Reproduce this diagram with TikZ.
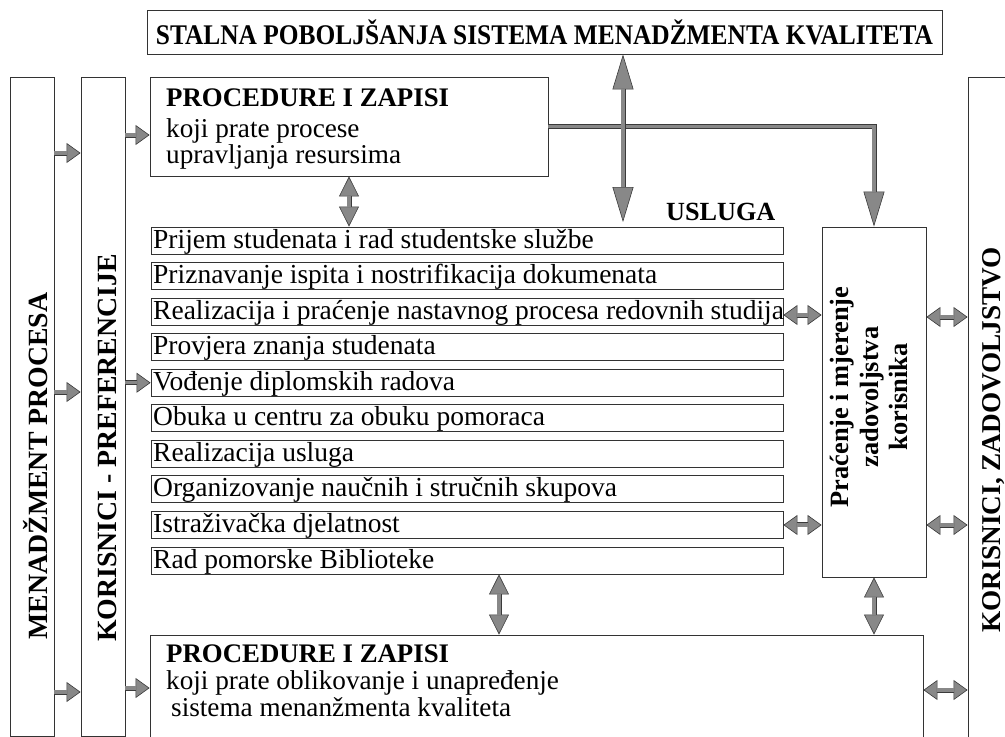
\documentclass[tikz,border=0pt]{standalone}
\usepackage{fontspec}
\setmainfont{Liberation Serif}
\usetikzlibrary{arrows.meta}
\definecolor{arrfill}{HTML}{888888}
\definecolor{arrline}{HTML}{3A3A3A}
\definecolor{boxline}{HTML}{333333}
\newcommand\myfs[2]{\fontsize{#1}{#2}\selectfont}
\tikzset{
  ST/.tip={Triangle[length=14pt,width=20pt,color=arrline,fill=arrfill,line width=0.6pt]},
  VT/.tip={Triangle[length=20pt,width=20pt,color=arrline,fill=arrfill,line width=0.6pt]},
  BT/.tip={Triangle[length=35pt,width=21pt,color=arrline,fill=arrfill,line width=0.6pt]},
  blk/.style={draw=arrline,line width=5pt},
  sarr/.style={blk,-ST,postaction={draw=arrfill,line width=3.4pt,arrows=-,shorten >=14pt}},
  dharr/.style={blk,ST-ST,postaction={draw=arrfill,line width=3.4pt,arrows=-,shorten >=14pt,shorten <=14pt}},
  dvarr/.style={blk,VT-VT,postaction={draw=arrfill,line width=3.4pt,arrows=-,shorten >=20pt,shorten <=20pt}},
  bigv/.style={blk,BT-BT,postaction={draw=arrfill,line width=3.4pt,arrows=-,shorten >=35pt,shorten <=35pt}},
  bige/.style={blk,-BT,postaction={draw=arrfill,line width=3.4pt,arrows=-,shorten >=35pt}},
  box/.style={draw=boxline,line width=0.9pt,inner sep=0pt},
  rowbox/.style={box,minimum width=632pt,minimum height=27pt},
  rowtxt/.style={anchor=base west,inner sep=0pt,font=\myfs{27.5}{27.5}},
  btxt/.style={anchor=base west,inner sep=0pt,font=\bfseries\myfs{26.8}{26.8}},
  ntxt/.style={anchor=base west,inner sep=0pt,font=\myfs{27.2}{27.2}},
  vtxt/.style={rotate=90,inner sep=0pt,font=\bfseries\myfs{27.8}{27.8}}
}
\begin{document}
\begin{tikzpicture}[x=1pt,y=-1pt]
\useasboundingbox (0,0) rectangle (1005,737);
\clip (0,0) rectangle (1005,737);
% boxes
\node[box,minimum width=795pt,minimum height=44pt,font=\bfseries\myfs{25.4}{25.4}] (top) at (544.5,32) {\scalebox{1}[1.12]{STALNA POBOLJŠANJA SISTEMA MENADŽMENTA KVALITETA}};
\node[box,minimum width=44pt,minimum height=659pt] (bar1) at (32,406.5) {};
\node[box,minimum width=44pt,minimum height=659pt] (bar2) at (103,406.5) {};
\node[box,minimum width=62pt,minimum height=668pt] (rbar) at (999,411) {};
\node[box,minimum width=398pt,minimum height=99pt] (proc1) at (349,126.5) {};
\node[box,minimum width=104pt,minimum height=350pt] (pm) at (874,402) {};
\node[box,minimum width=773pt,minimum height=125pt] (proc2) at (536.5,697.5) {};
% vertical texts
\node[vtxt] (bar1t) at (36,466) {MENADŽMENT PROCESA};
\node[vtxt] (bar2t) at (107.5,448) {KORISNICI - PREFERENCIJE};
\node[vtxt,font=\bfseries\myfs{27.2}{27.2}] (rbart) at (994,440) {KORISNICI, ZADOVOLJSTVO};
\node[rotate=90,align=center,inner sep=0pt,font=\bfseries\myfs{26.4}{29.5}] (pmt) at (869,397) {Praćenje i mjerenje\\zadovoljstva\\korisnika};
% procedure texts
\node[btxt] (p1a) at (166,106) {PROCEDURE I ZAPISI};
\node[ntxt] (p1b) at (166,137) {koji prate procese};
\node[ntxt] (p1c) at (166,163) {upravljanja resursima};
\node[btxt] (p2a) at (166,662) {PROCEDURE I ZAPISI};
\node[ntxt] (p2b) at (166,689) {koji prate oblikovanje i unapređenje};
\node[ntxt] (p2c) at (171,716) {sistema menanžmenta kvaliteta};
\node[btxt,font=\bfseries\myfs{26.2}{26.2}] (usl) at (666,220) {USLUGA};
% service rows
\foreach \i/\t in {1/{Prijem studenata i rad studentske službe},
  2/{Priznavanje ispita i nostrifikacija dokumenata},
  3/{Realizacija i praćenje nastavnog procesa redovnih studija},
  4/{Provjera znanja studenata},
  5/{Vođenje diplomskih radova},
  6/{Obuka u centru za obuku pomoraca},
  7/{Realizacija usluga},
  8/{Organizovanje naučnih i stručnih skupova},
  9/{Istraživačka djelatnost},
  10/{Rad pomorske Biblioteke}}{
  \pgfmathsetmacro\tp{227+35.56*(\i-1)}
  \node[rowbox] (r\i) at (467,\tp+13.5) {};
  \node[rowtxt] (t\i) at (153,\tp+21) {\t};
}
\coordinate (slin) at (623,222);
% connectors
\draw[sarr] (bar1.east |- 0,153) -- (bar2.west |- 0,153);
\draw[sarr] (bar1.east |- 0,392) -- (bar2.west |- 0,392);
\draw[sarr] (bar1.east |- 0,692) -- (bar2.west |- 0,692);
\draw[sarr] (bar2.east |- 0,135) -- (proc1.west |- 0,135);
\draw[sarr] (bar2.east |- r5.west) -- (r5.west);
\draw[sarr] (bar2.east |- 0,688) -- (proc2.west |- 0,688);
\draw[dvarr] (proc1.south) -- (proc1.south |- r1.north);
\draw[bige] (proc1.east) -| (pm.north);
\draw[bigv] (top.south -| slin) -- (slin);
\draw[dharr] (r3.east |- 0,315) -- (pm.west |- 0,315);
\draw[dharr] (pm.east |- 0,317) -- (rbar.west |- 0,317);
\draw[dharr] (r9.east) -- (r9.east -| pm.west);
\draw[dharr] (pm.east |- 0,525) -- (rbar.west |- 0,525);
\draw[dvarr] (r10.south -| 499,0) -- (proc2.north -| 499,0);
\draw[dvarr] (pm.south) -- (pm.south |- proc2.north);
\draw[dharr] (proc2.east |- 0,690) -- (rbar.west |- 0,690);
\end{tikzpicture}
\end{document}
